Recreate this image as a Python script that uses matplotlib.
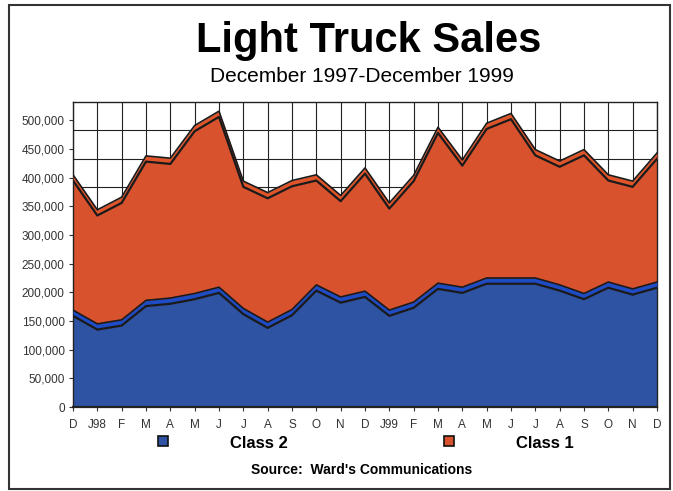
import matplotlib
matplotlib.use("Agg")
from matplotlib import pyplot as plt
from matplotlib.patches import Rectangle
import numpy as np

plt.rcParams['font.family'] = ['Liberation Sans', 'DejaVu Sans']

months = ["D", "J98", "F", "M", "A", "M", "J", "J", "A", "S", "O", "N", "D",
          "J99", "F", "M", "A", "M", "J", "J", "A", "S", "O", "N", "D"]
class2 = [159000, 135000, 142000, 176000, 180000, 188000, 199000, 162000, 138000,
          160000, 203000, 182000, 192000, 159000, 173000, 206000, 199000, 215000,
          215000, 215000, 203000, 188000, 208000, 196000, 208000]
class1 = [236000, 199000, 214000, 252000, 244000, 293000, 307000, 222000, 226000,
          225000, 192000, 177000, 215000, 187000, 221000, 272000, 222000, 270000,
          287000, 224000, 216000, 251000, 187000, 188000, 225000]
y_ticks = [0, 50000, 100000, 150000, 200000, 250000, 300000, 350000, 400000,
           450000, 500000]

BLUE = "#2f53a3"
BLUE_EDGE = "#1f4cc4"
ORANGE = "#d9522e"
ORANGE_EDGE = "#e0542a"
DEPTH = 10000

x = np.arange(len(months))
c2 = np.array(class2)
total = c2 + np.array(class1)

fig = plt.figure(figsize=(6.73, 4.91), dpi=100)
W, H = 673, 491
ax = fig.add_axes([73 / W, 1 - 407 / H, (657 - 73) / W, (407 - 102) / H])

# back-wall grid (shifted like the 3D original)
for xi in x:
    ax.axvline(xi, color="#222222", lw=0.8, zorder=0)
for yv in np.array(y_ticks) + 33000:
    ax.axhline(yv, color="#222222", lw=0.8, zorder=0)

ax.fill_between(x, 0, c2, color=BLUE, lw=0, zorder=2)
ax.fill_between(x, c2, total, color=ORANGE, lw=0, zorder=2)

# top faces of the series
ax.fill_between(x, c2, c2 + DEPTH, color=BLUE_EDGE, lw=0, zorder=3)
ax.plot(x, c2, color="#1a1a1a", lw=1.6, zorder=4)
ax.plot(x, c2 + DEPTH, color="#1a1a1a", lw=1.2, zorder=4)
ax.fill_between(x, total, total + DEPTH, color=ORANGE_EDGE, lw=0, zorder=3)
ax.plot(x, total, color="#1a1a1a", lw=1.6, zorder=4)
ax.plot(x, total + DEPTH, color="#1a1a1a", lw=1.2, zorder=4)

ax.set_xlim(0, len(months) - 1)
ax.set_ylim(0, 532000)
ax.set_xticks(x)
ax.set_xticklabels(months, fontsize=8.5, color="#333333")
ax.set_yticks(y_ticks)
ax.set_yticklabels([f"{v:,}" for v in y_ticks], fontsize=8.5, color="#333333")
ax.tick_params(direction="out", length=3, width=0.8, color="#333333", pad=3)
ax.tick_params(axis="x", pad=6)
for side in ["top", "right", "left", "bottom"]:
    ax.spines[side].set_color("#222222")
    ax.spines[side].set_linewidth(1.0)
ax.spines["bottom"].set_linewidth(1.6)

fig.text(369 / W, 1 - 41 / H, "Light Truck Sales", ha="center", va="center",
         fontsize=30, fontweight="bold")
fig.text(362 / W, 1 - 76 / H, "December 1997-December 1999", ha="center",
         va="center", fontsize=15)

# legend
for cx, col, label, lx in [(163, BLUE, "Class 2", 230), (449, ORANGE, "Class 1", 516)]:
    fig.add_artist(Rectangle(((cx - 5) / W, 1 - (446) / H), 10 / W, 10 / H,
                             transform=fig.transFigure, facecolor=col,
                             edgecolor="#111111", lw=1.2))
    fig.text(lx / W, 1 - 444 / H, label, ha="left", va="center", fontsize=12,
             fontweight="bold")

fig.text(362 / W, 1 - 470 / H, "Source:  Ward's Communications", ha="center",
         va="center", fontsize=10, fontweight="bold")

fig.add_artist(Rectangle((9 / W, 1 - 489 / H), 661 / W, 484 / H,
                         transform=fig.transFigure, fill=False,
                         edgecolor="#333333", lw=1.5))

fig.savefig("out.png", dpi=100)
plt.close(fig)
